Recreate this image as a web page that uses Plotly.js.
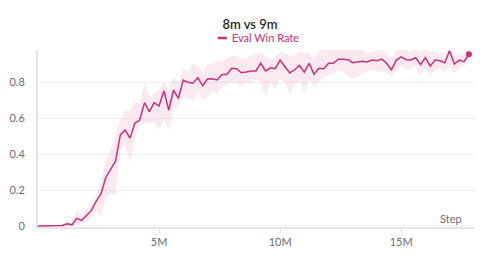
<!DOCTYPE html>
<html>
<head>
<meta charset="utf-8">
<script src="https://cdn.plot.ly/plotly-3.0.1.min.js"></script>
<style>html,body{margin:0;padding:0;background:#fff;}#chart{width:500px;height:262px;}</style>
</head>
<body>
<div id="chart"></div>
<script>
// Step in millions
var steps = [0,0.2,0.4,0.6,0.8,1.0,1.2,1.4,1.6,1.8,2.0,2.2,2.4,2.6,2.8,3.0,3.2,3.4,3.6,3.8,
  4.0,4.2,4.4,4.6,4.8,5.0,5.2,5.4,5.6,5.8,6.0,6.2,6.4,6.6,6.8,7.0,7.2,7.4,7.6,7.8,
  8.0,8.2,8.4,8.6,8.8,9.0,9.2,9.4,9.6,9.8,10.0,10.2,10.4,10.6,10.8,11.0,11.2,11.4,11.6,11.8,
  12.0,12.2,12.4,12.6,12.8,13.0,13.2,13.4,13.6,13.8,14.0,14.2,14.4,14.6,14.8,15.0,15.2,15.4,15.6,15.8,
  16.0,16.2,16.4,16.6,16.8,17.0,17.2,17.4,17.6,17.8];
var winRate = [0,0,0,0,0,0.002,0.012,0.006,0.042,0.031,
  0.058,0.085,0.137,0.178,0.27,0.317,0.36,0.507,0.534,0.489,
  0.572,0.59,0.687,0.637,0.687,0.668,0.753,0.646,0.757,0.711,
  0.813,0.80,0.795,0.826,0.781,0.818,0.82,0.813,0.844,0.844,
  0.878,0.876,0.853,0.857,0.863,0.863,0.906,0.863,0.881,0.876,
  0.924,0.887,0.852,0.87,0.894,0.857,0.906,0.844,0.878,0.876,
  0.906,0.906,0.929,0.929,0.926,0.909,0.913,0.917,0.913,0.924,
  0.92,0.929,0.906,0.87,0.924,0.942,0.926,0.924,0.937,0.9,
  0.937,0.89,0.924,0.92,0.909,0.976,0.902,0.924,0.915,0.957];
var winRateMin = [0,0,0,0,0,0,0,0,0.005,0.01,
  0.02,0.04,0.09,0.05,0.16,0.18,0.17,0.42,0.45,0.35,
  0.48,0.57,0.57,0.57,0.58,0.535,0.60,0.53,0.66,0.67,
  0.72,0.71,0.70,0.74,0.70,0.72,0.75,0.73,0.78,0.79,
  0.80,0.80,0.78,0.80,0.80,0.81,0.80,0.72,0.80,0.76,
  0.82,0.80,0.73,0.79,0.81,0.74,0.82,0.78,0.80,0.83,
  0.84,0.85,0.87,0.86,0.84,0.82,0.83,0.85,0.86,0.87,
  0.86,0.86,0.85,0.83,0.87,0.89,0.87,0.88,0.89,0.84,
  0.88,0.83,0.87,0.88,0.86,0.89,0.85,0.88,0.89,0.92];
var winRateMax = [0.003,0.003,0.003,0.003,0.003,0.01,0.03,0.02,0.085,0.06,
  0.09,0.12,0.17,0.25,0.35,0.42,0.50,0.59,0.64,0.64,
  0.69,0.68,0.80,0.72,0.74,0.76,0.80,0.76,0.83,0.79,
  0.88,0.86,0.905,0.89,0.86,0.90,0.90,0.92,0.92,0.93,
  0.95,0.95,0.93,0.93,0.95,0.96,0.97,0.95,0.93,0.94,
  0.97,0.96,0.95,0.95,0.97,0.96,0.97,0.93,0.97,0.99,
  1.00,0.99,0.99,0.98,0.99,1.00,0.99,0.98,0.96,0.97,
  0.98,0.98,0.96,0.93,0.98,1.00,0.98,0.97,0.99,0.97,
  0.99,0.97,0.97,0.96,0.96,0.99,0.95,0.96,0.96,0.99];
var xTickVals = [5, 10, 15];
var xTickText = ['5M', '10M', '15M'];
var yTickVals = [0, 0.2, 0.4, 0.6, 0.8];
var yTickText = ['0', '0.2', '0.4', '0.6', '0.8'];

var lineColor = '#c8307a';
var font = 'Lato, "Source Sans Pro", "Noto Sans", sans-serif';
var last = steps.length - 1;

var traces = [
  {x: steps, y: winRateMin, type: 'scatter', mode: 'lines', line: {width: 0, color: 'rgba(0,0,0,0)'},
   showlegend: false, hoverinfo: 'skip'},
  {x: steps, y: winRateMax, type: 'scatter', mode: 'lines', line: {width: 0, color: 'rgba(0,0,0,0)'},
   fill: 'tonexty', fillcolor: 'rgba(214,70,140,0.12)', showlegend: false, hoverinfo: 'skip'},
  {x: steps, y: winRate, type: 'scatter', mode: 'lines', name: 'Eval Win Rate',
   line: {color: lineColor, width: 1.5}},
  {x: [steps[last]], y: [winRate[last]], type: 'scatter', mode: 'markers', showlegend: false,
   marker: {color: lineColor, size: 6}}
];

var layout = {
  width: 500, height: 262,
  margin: {l: 38, r: 25, t: 50, b: 35, autoexpand: false},
  paper_bgcolor: '#fff', plot_bgcolor: '#fff',
  font: {family: font, size: 11, color: '#6b6b76'},
  title: {text: '8m vs 9m', font: {family: font, size: 13, color: '#2b2b2b', weight: 600},
          x: 0.5, xref: 'container', xanchor: 'center', y: 0.905, yref: 'container', yanchor: 'middle'},
  showlegend: true,
  legend: {orientation: 'h', x: 0.352, xref: 'paper', xanchor: 'left', y: 1.068, yref: 'paper',
           yanchor: 'middle', itemwidth: 30,
           font: {family: font, size: 11, color: lineColor}, bgcolor: 'rgba(0,0,0,0)'},
  xaxis: {range: [0, 18.05], tickvals: xTickVals, ticktext: xTickText, showgrid: false, zeroline: false,
          showline: true, linecolor: '#e4e4e6', linewidth: 2, ticks: 'outside', ticklen: 4,
          tickcolor: '#dcdcdf', tickfont: {family: font, size: 11, color: '#6b6b76'}},
  yaxis: {range: [-0.006, 0.98], tickvals: yTickVals, ticktext: yTickText, showgrid: true,
          gridcolor: '#efeff1', gridwidth: 1, zeroline: false, showline: true, linecolor: '#e4e4e6',
          linewidth: 2, ticks: '', ticklabelstandoff: 9, tickfont: {family: font, size: 11, color: '#6b6b76'}},
  annotations: [{text: 'Step', xref: 'paper', yref: 'paper', x: 0.975, y: 0.0, xanchor: 'right',
                 yanchor: 'bottom', showarrow: false, font: {family: font, size: 11, color: '#6b6b76'}}]
};
Plotly.newPlot('chart', traces, layout, {displayModeBar: false, staticPlot: true}).then(function (gd) {
  // shorten the legend's line sample to a small dash like the reference
  gd.querySelectorAll('.legend .legendlines path').forEach(function (p) {
    p.setAttribute('d', 'M26,0h9');
    p.style.strokeWidth = '2.5px';
  });
});
</script>
</body>
</html>
